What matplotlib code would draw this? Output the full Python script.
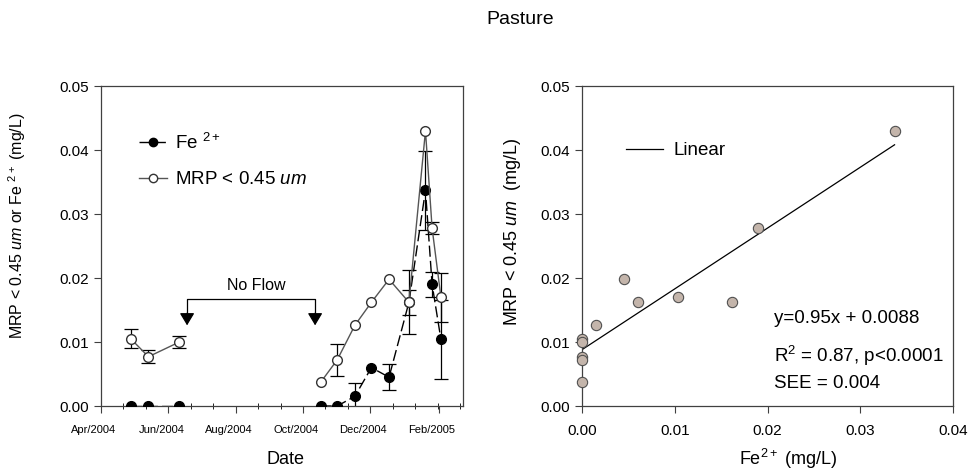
import numpy as np
import pandas as pd
import matplotlib
matplotlib.use('Agg')
import matplotlib.pyplot as plt
import matplotlib.dates as mdates
from matplotlib.ticker import AutoMinorLocator, MultipleLocator
from matplotlib.transforms import ScaledTranslation

plt.rcParams['font.family'] = ['Liberation Sans', 'DejaVu Sans']
plt.rcParams['mathtext.fontset'] = 'custom'
plt.rcParams['mathtext.rm'] = 'Liberation Sans'
plt.rcParams['mathtext.it'] = 'Liberation Sans:italic'

# sampling dates and concentrations (mg/L)
dates = pd.to_datetime(['2004-04-28', '2004-05-14', '2004-06-11', '2004-10-17',
                        '2004-11-01', '2004-11-17', '2004-12-02', '2004-12-18',
                        '2005-01-05', '2005-01-20', '2005-01-26', '2005-02-03'])
fe = np.array([0, 0, 0, 0, 0, 0.0015, 0.0060, 0.0045, 0.0162, 0.0337, 0.0190, 0.0104])
fe_err = np.array([0, 0, 0, 0, 0, 0.0021, 0, 0.0020, 0.0020, 0.0062, 0.0020, 0.0062])
mrp = np.array([0.0105, 0.0077, 0.0100, 0.0037, 0.0072, 0.0126, 0.0162, 0.0198,
                0.0162, 0.0430, 0.0278, 0.0170])
mrp_err = np.array([0.0015, 0.0010, 0.0009, 0, 0.0025, 0, 0, 0, 0.0050, 0, 0.0010, 0.0038])

# regression results
slope, intercept = 0.95, 0.0088
stats_text = ['y=0.95x + 0.0088', 'R$^2$ = 0.87, p<0.0001', 'SEE = 0.004']

W, H = 972, 473
fig = plt.figure(figsize=(W / 100, H / 100), dpi=100)
ax1 = fig.add_axes([101 / W, 1 - 406 / H, 362 / W, 320 / H])
ax2 = fig.add_axes([582 / W, 1 - 406 / H, 371 / W, 320 / H])

fig.text(520 / W, 1 - 20 / H, 'Pasture', ha='center', va='center', fontsize=14)

spine_col = '#404040'
for ax in (ax1, ax2):
    for s in ax.spines.values():
        s.set_color(spine_col)
        s.set_linewidth(0.9)

# ---- left: time series
pre = dates < pd.Timestamp('2004-07-01')
post = ~pre
for m in (pre, post):
    ax1.errorbar(dates[m], mrp[m], yerr=np.where(mrp_err[m] > 0, mrp_err[m], np.nan),
                 fmt='none', ecolor='black', elinewidth=0.9, capsize=5, capthick=0.9, zorder=2)
    ax1.errorbar(dates[m], fe[m], yerr=np.where(fe_err[m] > 0, fe_err[m], np.nan),
                 fmt='none', ecolor='black', elinewidth=0.9, capsize=5, capthick=0.9, zorder=2)
    ax1.plot(dates[m], fe[m], color='black', lw=1, ls=(0, (8, 3)), marker='o',
             ms=7, mfc='black', mec='black', zorder=3)
    ax1.plot(dates[m], mrp[m], color='#555555', lw=1, marker='o',
             ms=7, mfc='white', mec='#333333', zorder=4)

# legend entries
ax1.plot([], [], color='black', lw=1, ls=(0, (8, 3)), marker='o', ms=6,
         mfc='black', mec='black', label='Fe $^{2+}$')
ax1.plot([], [], color='#555555', lw=1, marker='o', ms=6, mfc='white',
         mec='#333333', label='MRP < 0.45 $\\mathit{um}$')
h, l = ax1.get_legend_handles_labels()
ax1.legend(h[-2:], l[-2:], loc='upper left', bbox_to_anchor=(0.105, 0.855), frameon=False,
           fontsize=13.5, handlelength=1.5, handletextpad=0.4, labelspacing=1.0,
           borderpad=0, borderaxespad=0)

# No Flow bracket
x_a, x_b = pd.Timestamp('2004-06-18'), pd.Timestamp('2004-10-12')
ax1.plot([x_a, x_a, x_b, x_b], [0.0140, 0.0167, 0.0167, 0.0140], color='black', lw=0.9)
for xx in (x_a, x_b):
    ax1.annotate('', xy=(xx, 0.0126), xytext=(xx, 0.0145),
                 arrowprops=dict(arrowstyle='-|>,head_length=0.5,head_width=0.3',
                                 mutation_scale=15, color='black', lw=0.9,
                                 shrinkA=0, shrinkB=0))
ax1.text(pd.Timestamp('2004-08-20'), 0.0189, 'No Flow', ha='center', va='center', fontsize=11.5)

ax1.set_xlim(pd.Timestamp('2004-04-01'), pd.Timestamp('2005-02-23'))
ax1.set_ylim(0, 0.05)
ax1.xaxis.set_major_locator(mdates.MonthLocator(bymonth=[2, 4, 6, 8, 10, 12]))
ax1.xaxis.set_major_formatter(mdates.DateFormatter('%b/%Y'))
ax1.xaxis.set_minor_locator(AutoMinorLocator(3))
ax1.yaxis.set_major_locator(MultipleLocator(0.01))
ax1.yaxis.set_major_formatter(matplotlib.ticker.FormatStrFormatter('%.2f'))
ax1.tick_params(axis='x', which='major', direction='out', length=5, labelsize=8, pad=9)
ax1.tick_params(axis='x', which='minor', direction='inout', length=4)
ax1.tick_params(axis='y', direction='out', length=5, labelsize=11)
ax1.tick_params(top=False, right=False, colors=spine_col, labelcolor='black')
off = ScaledTranslation(-7 / 100, 0, fig.dpi_scale_trans)
for lab in ax1.get_xticklabels():
    lab.set_transform(lab.get_transform() + off)
ax1.set_xlabel('Date', fontsize=13, va='center')
ax1.xaxis.set_label_coords(0.51, -0.166)
ax1.set_ylabel('MRP < 0.45 $\\mathit{um}$ or Fe $^{2+}$ (mg/L)', fontsize=11.5, va='center')
ax1.yaxis.set_label_coords(-0.232, 0.5625)

# ---- right: scatter with fit
xfit = np.array([0, fe.max()])
ax2.plot(xfit, slope * xfit + intercept, color='black', lw=0.9, label='Linear', zorder=2)
ax2.scatter(fe, mrp, s=55, facecolor='#c4b5ab', edgecolor='#505050', linewidth=0.8,
            zorder=3, clip_on=False)
ax2.legend(loc='upper left', bbox_to_anchor=(0.118, 0.825), frameon=False, fontsize=13.5,
           handlelength=2.0, handletextpad=0.55, borderpad=0, borderaxespad=0)
for t, yy in zip(stats_text, [0.272, 0.155, 0.07]):
    ax2.text(0.517, yy, t, transform=ax2.transAxes, fontsize=13.5, ha='left', va='center')
ax2.set_xlim(0, 0.04)
ax2.set_ylim(0, 0.05)
ax2.xaxis.set_major_locator(MultipleLocator(0.01))
ax2.yaxis.set_major_locator(MultipleLocator(0.01))
ax2.xaxis.set_major_formatter(matplotlib.ticker.FormatStrFormatter('%.2f'))
ax2.yaxis.set_major_formatter(matplotlib.ticker.FormatStrFormatter('%.2f'))
ax2.tick_params(direction='out', length=5, labelsize=11, top=False, right=False,
                colors=spine_col, labelcolor='black')
ax2.tick_params(axis='x', pad=8)
ax2.set_xlabel('Fe$^{2+}$ (mg/L)', fontsize=13, va='center')
ax2.xaxis.set_label_coords(0.555, -0.165)
ax2.set_ylabel('MRP < 0.45 $\\mathit{um}$  (mg/L)', fontsize=13, va='center')
ax2.yaxis.set_label_coords(-0.186, 0.544)

fig.savefig('out.png', dpi=100)
